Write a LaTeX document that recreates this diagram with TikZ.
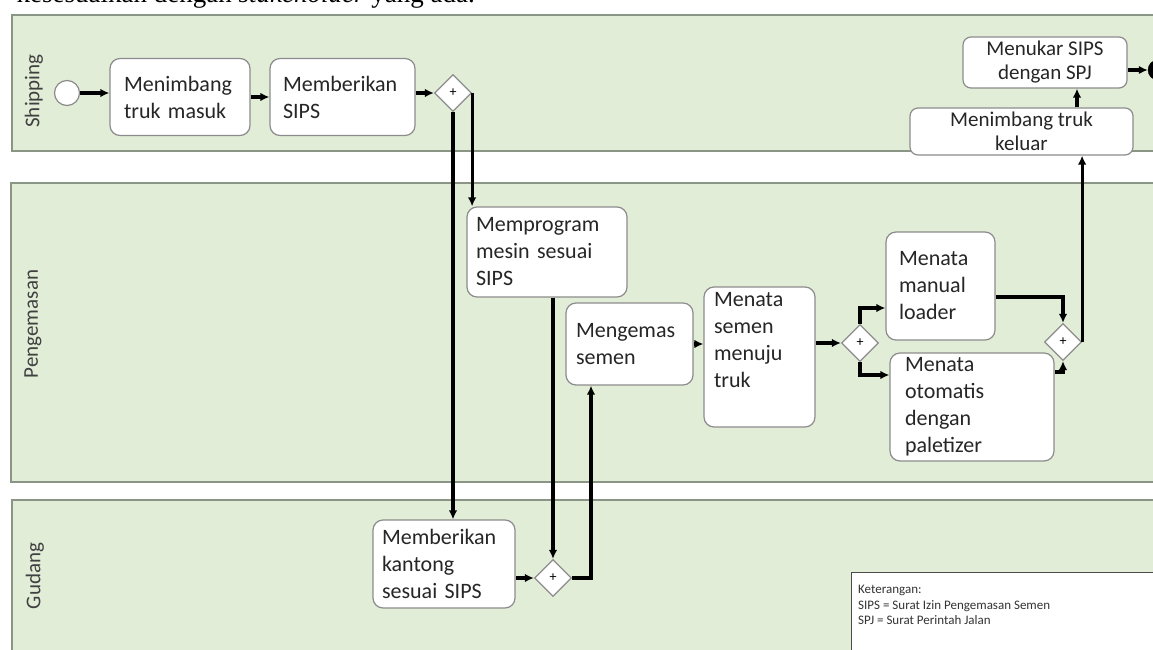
\documentclass[tikz,border=0pt]{standalone}
\usepackage{fontspec}
\setmainfont{Carlito}
\newfontfamily\docserif{Liberation Serif}
\usetikzlibrary{arrows.meta,shapes.geometric,calc}
\definecolor{lanefill}{HTML}{E2EDD8}
\definecolor{laneborder}{HTML}{8A9585}
\definecolor{boxborder}{HTML}{8C8C8C}
\tikzset{
  lane/.style={draw=laneborder, fill=lanefill, line width=1.6pt},
  lanelabel/.style={rotate=90, font=\fontsize{21}{24}\selectfont, text=black!75},
  task/.style={draw=boxborder, fill=white, rounded corners=10pt, line width=1.2pt,
    font=\fontsize{22}{27}\selectfont, align=left, text=black!85},
  ctask/.style={draw=boxborder, fill=white, rounded corners=8pt, line width=1.2pt,
    font=\fontsize{21}{24}\selectfont, align=center, text=black!85, inner sep=0pt},
  gate/.style={diamond, draw=boxborder, fill=white, line width=1.2pt, minimum width=37pt,
    minimum height=37pt, inner sep=0pt, font=\fontsize{14}{14}\selectfont},
  flow/.style={line width=3.2pt, -{Latex[length=9pt,width=8.5pt]}},
}
\begin{document}
\begin{tikzpicture}[x=1pt,y=-1pt]
\useasboundingbox (0,0) rectangle (1153,650);
% cut-off document text at top
\node[anchor=base east, font=\docserif\fontsize{27}{27}\selectfont, inner sep=0pt] (doctext) at (475,3)
  {kesesuaikan dengan \textit{stakeholder} yang ada.};
% lanes
\draw[lane] (12,15) rectangle (1175,151);
\draw[lane] (11,183) rectangle (1175,482);
\draw[lane] (12,500) rectangle (1175,680);
\node[lanelabel] (lship) at (34,91) {Shipping};
\node[lanelabel] (lpack) at (33,324) {Pengemasan};
\node[lanelabel] (lgud) at (35,576) {Gudang};
% shipping
\node[circle, draw=boxborder, fill=white, line width=1.2pt, minimum size=25pt, inner sep=0pt] (start) at (67,93) {};
\node[task, text width=112pt, inner xsep=14pt, minimum height=77pt] (b1) at (180,97) {Menimbang\\truk masuk};
\node[task, text width=119pt, inner xsep=13pt, minimum height=77pt] (b2) at (342.5,97) {Memberikan\\SIPS};
\node[gate] (g1) at (453,93) {+};
\node[ctask, minimum width=164pt, minimum height=51pt] (tukar) at (1045,62.5) {Menukar SIPS\\dengan SPJ};
\node[ctask, minimum width=223pt, minimum height=47pt] (keluar) at (1021.5,131.5) {Menimbang truk\\keluar};
\node[circle, draw=black, fill=black, minimum size=20pt, inner sep=0pt] (end) at (1158,70) {};
% pengemasan
\node[task, text width=142pt, inner xsep=9pt, minimum height=90pt] (prog) at (547,252) {Memprogram\\mesin sesuai\\SIPS};
\node[task, text width=107pt, inner xsep=10pt, minimum height=82pt] (kemas) at (629.5,344) {Mengemas\\semen};
\node[task, text width=91pt, inner xsep=10pt, inner ysep=0pt, minimum height=140pt] (menata) at (759.5,357)
  {\parbox[c][130pt][t]{91pt}{Menata\\semen\\menuju\\truk}};
\node[gate] (g3) at (860,343) {+};
\node[task, text width=83pt, inner xsep=13pt, minimum height=108pt] (manual) at (940.5,286) {Menata\\manual\\loader};
\node[task, text width=134pt, inner xsep=15pt, minimum height=108pt] (oto) at (972,407) {Menata\\otomatis\\dengan\\paletizer};
\node[gate] (g4) at (1063,342) {+};
% gudang
\node[task, text width=124pt, inner xsep=9pt, minimum height=88pt] (kant) at (444,564) {Memberikan\\kantong\\sesuai SIPS};
\node[gate] (g2) at (553,578) {+};
% legend
\node[draw=black!70, fill=white, line width=1.2pt, anchor=north west, minimum width=330pt,
  minimum height=100pt] (legend) at (851,572) {};
\node[anchor=north west, align=left, font=\fontsize{13}{15.5}\selectfont, text=black!80, inner sep=0pt]
  (legtext) at (858,585) {Keterangan:\\SIPS = Surat Izin Pengemasan Semen\\SPJ = Surat Perintah Jalan};
% flows
\draw[flow] (start) -- (b1.west |- start);
\draw[flow] (b1.east) -- (b2.west);
\draw[flow] (b2.east |- g1) -- (g1.west);
\draw[flow] (g1.south) -- (g1.south |- kant.north);
\draw[flow] (g1.east) -- (g1.east |- prog.north);
\draw[flow] (g2 |- prog.south) -- (g2.north);
\draw[flow] (kant.east |- g2) -- (g2.west);
\coordinate (kemin) at ([xshift=-38.5pt]kemas.south);
\draw[flow] (g2.east) -| (kemin);
\draw[flow] (kemas.east) -- (menata.west |- kemas.east);
\draw[flow] (menata.east |- g3) -- (g3.west);
\coordinate (manin) at ([yshift=-22pt]manual.west);
\coordinate (otoin) at ([yshift=32pt]oto.west);
\draw[flow] (g3.north) |- (manin);
\draw[flow] (g3.south) |- (otoin);
\coordinate (manout) at ([yshift=-11pt]manual.east);
\coordinate (otoout) at ([yshift=35pt]oto.east);
\draw[flow] (manout) -| (g4.north);
\draw[flow] (otoout) -| (g4.south);
\draw[flow] (g4.east) -- (g4.east |- keluar.south);
\coordinate (tx) at ([xshift=32pt]tukar.south);
\draw[flow] (tx |- keluar.north) -- (tx);
\draw[flow] (tukar.east |- end) -- (end);
\end{tikzpicture}
\end{document}
